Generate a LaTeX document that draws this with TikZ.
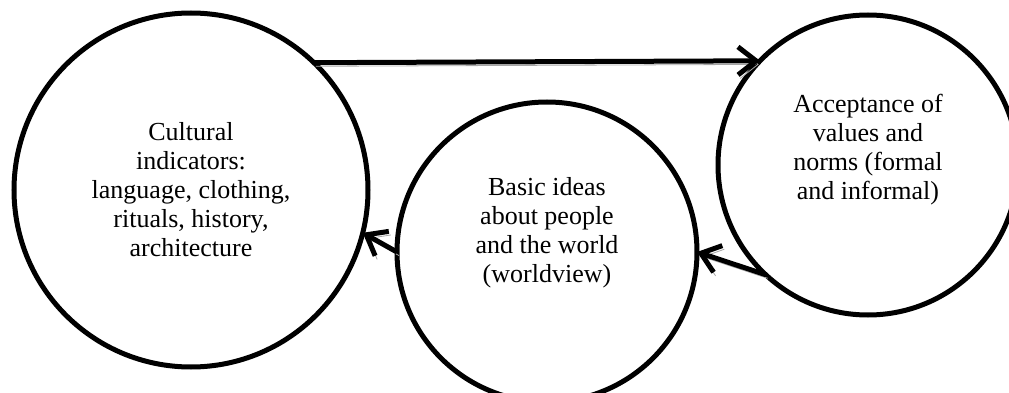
\documentclass[tikz,border=0pt]{standalone}
\usepackage{fontspec}
\setmainfont{Liberation Serif}
\usetikzlibrary{arrows.meta,calc}
\tikzset{
  bubble/.style={draw=black, circle, line width=2.5pt, inner sep=0pt, outer sep=0pt},
  bigbubble/.style={bubble, minimum size=177pt},
  smallbubble/.style={bubble, minimum size=150pt},
  txt/.style={align=center, font=\fontsize{13}{14.5}\selectfont, inner sep=0pt},
  arr/.style={-{Straight Barb[length=9pt,width=14pt]}, line width=2.5pt,
    preaction={draw=black!35, transform canvas={shift={(1pt,-1.8pt)}}}}
}

\begin{document}
\begin{tikzpicture}[x=0.5pt, y=0.5pt]
  \useasboundingbox (0,0) rectangle (1009,392);

  % the three circles
  \node[bigbubble] (cult) at (191,202) {};
  \node[smallbubble] (basic) at (547,140) {};
  \node[smallbubble] (accept) at (868,227) {};

  \node[txt] (culttxt) at (cult) {Cultural\\indicators:\\language, clothing,\\rituals, history,\\architecture};
  \node[txt] (basictxt) at ($(basic)+(0,19)$) {Basic ideas\\about people\\and the world\\(worldview)};
  \node[txt] (accepttxt) at ($(accept)+(0,15)$) {Acceptance of\\values and\\norms (formal\\and informal)};

  % cycle of arrows
  \draw[arr] (cult.46.3) -- (accept.136.6);
  \draw[arr] (accept.227) -- (basic.0);
  \draw[arr] (basic.180) -- (cult.-14);
\end{tikzpicture}
\end{document}
